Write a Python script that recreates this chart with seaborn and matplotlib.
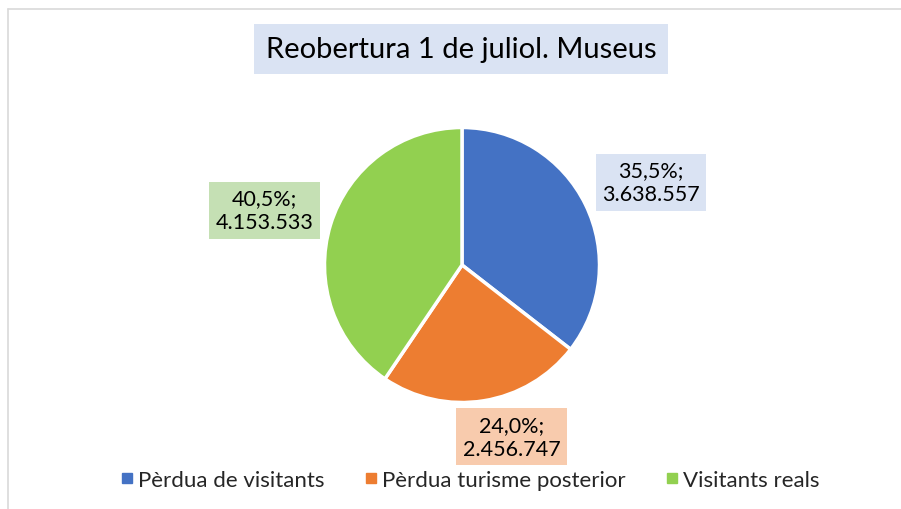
import numpy as np
import seaborn as sns
from matplotlib import pyplot as plt
from matplotlib.lines import Line2D

# Data
categories = ["Pèrdua de visitants", "Pèrdua turisme posterior", "Visitants reals"]
values = [3638557, 2456747, 4153533]
percents = ["35,5%", "24,0%", "40,5%"]
value_labels = ["3.638.557", "2.456.747", "4.153.533"]

# Style
colors = ["#4472C4", "#ED7D31", "#92D050"]
box_colors = ["#DAE3F3", "#F8CBAD", "#C5E0B4"]
label_dist = [1.50, 1.30, 1.49]
label_ang_shift = [-2.5, 7.0, 1.5]
title = "Reobertura 1 de juliol. Museus"

sns.set_theme(style = "white")
plt.rcParams['font.family'] = ['Lato', 'DejaVu Sans']

fig = plt.figure(figsize = (9.01, 5.10), dpi = 100)
fig.patch.set_facecolor("white")

# pie centre ~ (462, 266) px, radius ~137 px
cx, cy, r = 462, 266, 137.5
ax = fig.add_axes([(cx - r) / 901, (510 - cy - r) / 510, 2 * r / 901, 2 * r / 510])

wedges, _ = ax.pie(
    values,
    colors = colors,
    startangle = 90,
    counterclock = False,
    radius = 1,
    wedgeprops = dict(edgecolor = "white", linewidth = 2.5),
)
ax.set_xlim(-1, 1)
ax.set_ylim(-1, 1)
ax.set_aspect("equal")
ax.axis("off")

# data labels in coloured boxes
for i, w in enumerate(wedges):
    ang = np.deg2rad((w.theta1 + w.theta2) / 2 + label_ang_shift[i])
    x = label_dist[i] * np.cos(ang)
    y = label_dist[i] * np.sin(ang)
    ax.text(
        x, y, percents[i] + ";\n" + value_labels[i],
        ha = "center", va = "center", fontsize = 15.5, color = "#000000",
        linespacing = 1.25, clip_on = False,
        bbox = dict(boxstyle = "square,pad=0.3", facecolor = box_colors[i], edgecolor = "none"),
    )

# title in a light blue box
fig.text(
    0.512, 1 - 50 / 510, title,
    ha = "center", va = "center", fontsize = 21, color = "#000000",
    bbox = dict(boxstyle = "square,pad=0.4", facecolor = "#DAE3F3", edgecolor = "none"),
)

# legend
handles = [Line2D([0], [0], marker = "s", linestyle = "none", markersize = 7.5,
                  markerfacecolor = c, markeredgecolor = c) for c in colors]
fig.legend(
    handles, categories,
    loc = "center", bbox_to_anchor = (0.519, 1 - 481 / 510),
    ncol = 3, frameon = False, fontsize = 16,
    handletextpad = 0.0, columnspacing = 1.6, handlelength = 1.0,
)

# chart frame (partially visible)
fig.add_artist(Line2D([8 / 901, 1.0], [1 - 10 / 510, 1 - 10 / 510], color = "#D9D9D9", linewidth = 1.2))
fig.add_artist(Line2D([8 / 901, 8 / 901], [1 - 10 / 510, 0.0], color = "#D9D9D9", linewidth = 1.2))

fig.savefig("out.png", dpi = 100)
